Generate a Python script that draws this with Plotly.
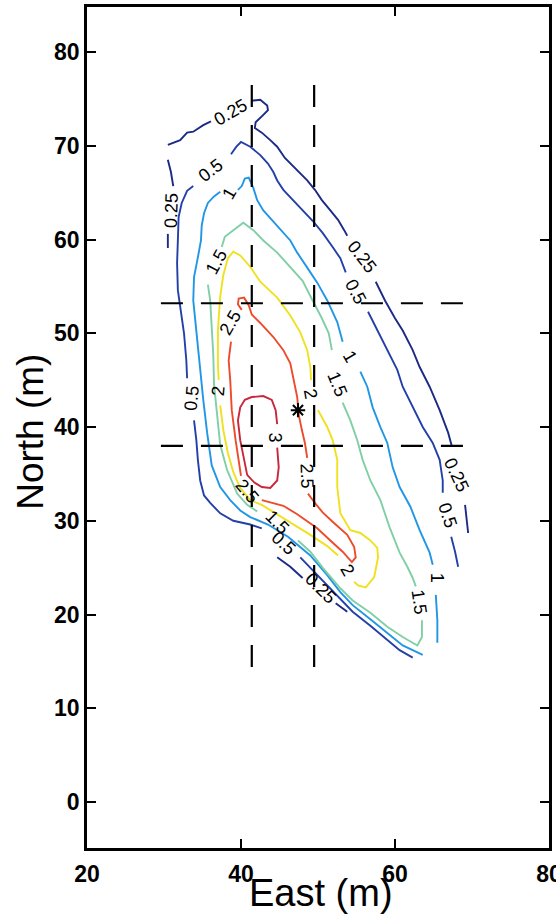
import plotly.graph_objects as go

# Contour polylines (East, North in metres), one list of segments per level.
# Segments are broken where an inline level label sits on the line.
c025 = [
    [(30.5, 70.1), (32.1, 70.6), (33.0, 71.4), (33.8, 71.5), (35.1, 72.2), (36.1, 72.6)],
    [(41.3, 74.8), (42.5, 74.9), (43.4, 74.3), (43.5, 73.8), (42.9, 73.3), (41.9, 72.5),
     (41.8, 71.9), (42.7, 71.4), (43.8, 70.6), (44.7, 69.9), (45.7, 68.7), (47.3, 67.4),
     (48.6, 66.3), (49.6, 65.3), (50.5, 64.2), (51.6, 63.1), (52.6, 62.1), (53.4, 61.0),
     (53.8, 60.4)],
    [(57.5, 55.5), (58.7, 53.5), (60.0, 51.6), (61.0, 50.3), (62.3, 48.2), (63.2, 46.4),
     (64.5, 44.3), (65.8, 41.8), (66.9, 39.4), (67.4, 37.9)],
    [(69.1, 31.7), (69.3, 30.1), (69.5, 28.7)],
    [(30.5, 68.5), (30.9, 67.2), (31.2, 65.7)],
    [(30.5, 60.6), (30.5, 59.1)],
    [(44.7, 26.1), (46.4, 25.1), (48.0, 23.9)],
    [(52.3, 21.2), (53.8, 20.3)],
]
c05 = [
    [(68.2, 25.1), (67.8, 26.7), (67.3, 28.3)],
    [(66.2, 33.0), (66.2, 34.3), (65.8, 36.5), (64.9, 38.3), (63.6, 40.0), (62.3, 42.1),
     (61.0, 44.3), (60.3, 46.1), (59.0, 48.2), (57.7, 50.3), (56.5, 52.3)],
    [(53.6, 56.5), (52.9, 58.0), (51.9, 59.2), (50.6, 60.7), (49.3, 62.0), (48.0, 63.1),
     (46.8, 64.2), (45.5, 65.3), (44.7, 66.3), (44.2, 67.2), (43.5, 68.1), (42.5, 69.0),
     (41.2, 69.9), (40.0, 70.4), (39.4, 69.9), (38.7, 69.1)],
    [(33.8, 65.7), (33.0, 65.2), (32.3, 63.9), (31.9, 62.4), (31.8, 59.9), (31.7, 57.5),
     (31.8, 54.6), (32.2, 52.5), (32.6, 50.0), (32.9, 47.1), (33.0, 45.2)],
    [(33.9, 40.7), (34.2, 38.6), (34.4, 36.5), (34.7, 34.3), (35.2, 32.7), (36.0, 31.9),
     (37.3, 30.8), (39.0, 30.0), (41.2, 29.6), (42.7, 29.2)],
    [(47.7, 26.1), (50.3, 23.9), (52.5, 22.0), (54.5, 20.3), (56.8, 18.8), (59.0, 17.3),
     (60.6, 16.2), (62.3, 15.4)],
]
c1 = [
    [(65.5, 17.0), (65.5, 19.4), (65.3, 22.1)],
    [(64.9, 25.3), (64.5, 26.6), (63.2, 29.0), (62.0, 31.5), (60.6, 33.6), (59.7, 35.7),
     (59.0, 38.3), (58.1, 40.0), (57.1, 42.1), (56.4, 44.3), (55.5, 45.9)],
    [(53.2, 49.1), (52.5, 51.2), (51.2, 53.5), (49.9, 55.4), (48.6, 57.0), (47.3, 58.6),
     (46.4, 59.9), (44.7, 61.5), (42.9, 63.1), (42.1, 64.2), (41.6, 65.5), (41.0, 66.6),
     (40.5, 66.5), (40.1, 65.7), (39.6, 65.3)],
    [(37.3, 65.1), (36.5, 64.6), (35.7, 63.9), (35.2, 62.8), (34.9, 61.5), (34.8, 59.9),
     (34.4, 58.1), (33.9, 56.0), (33.8, 53.5), (34.2, 50.0), (34.7, 46.4), (35.1, 42.9),
     (35.6, 39.4), (36.2, 35.9), (37.3, 33.6), (38.6, 32.2), (39.9, 31.1), (41.2, 30.4),
     (43.5, 29.6), (46.1, 28.3), (49.0, 26.3), (51.2, 24.2), (52.9, 22.4), (54.5, 21.0),
     (56.8, 19.5), (59.0, 18.0), (61.0, 16.7), (63.6, 15.7)],
]
c15 = [
    [(37.5, 59.2), (37.9, 60.3), (39.0, 61.0), (40.3, 61.8), (41.6, 61.0), (42.9, 59.9),
     (44.7, 58.6), (46.4, 57.1), (48.0, 55.6), (49.3, 53.5), (50.5, 51.6), (51.4, 50.0),
     (51.8, 48.2)],
    [(53.2, 42.6), (54.2, 40.7), (55.1, 38.6), (55.8, 36.5), (56.8, 34.3), (58.1, 32.2),
     (59.3, 29.3), (60.6, 26.6), (61.6, 25.1), (62.3, 23.9), (62.7, 23.0)],
    [(63.5, 19.4), (63.5, 17.6), (62.9, 16.7), (61.0, 17.6), (59.0, 18.7), (56.8, 20.2),
     (54.5, 21.5), (52.9, 22.8), (50.6, 25.0), (49.0, 26.7), (47.4, 27.9)],
    [(42.1, 31.0), (40.8, 31.7), (39.5, 32.9), (38.2, 35.4), (37.3, 38.1), (36.9, 41.3),
     (36.5, 44.5), (36.4, 47.7), (36.2, 50.3), (36.0, 53.5), (35.7, 55.2)],
]
c2 = [
    [(37.1, 45.0), (37.0, 46.8), (37.0, 50.3), (37.3, 53.9), (37.7, 56.2), (38.3, 58.0),
     (39.0, 58.7), (39.9, 58.3), (41.2, 57.1), (42.5, 55.5), (44.7, 53.8), (46.4, 51.9),
     (47.7, 50.1), (48.6, 48.2), (49.0, 46.4), (49.1, 45.0)],
    [(50.0, 41.8), (51.2, 40.0), (51.9, 38.6), (52.5, 36.5), (52.5, 33.6), (52.9, 30.8),
     (54.2, 29.0), (55.5, 28.7), (56.8, 27.9), (57.7, 27.1), (57.8, 26.1), (57.3, 24.0),
     (56.2, 22.9), (55.2, 23.1), (54.7, 23.5)],
    [(52.6, 26.3), (51.2, 27.3), (49.0, 28.5), (46.8, 29.6), (44.7, 30.7), (42.7, 31.7),
     (41.2, 32.2), (39.9, 33.5), (39.0, 35.2), (38.3, 37.2), (37.7, 39.7), (37.3, 42.3)],
]
c25 = [
    [(38.7, 49.1), (38.4, 47.1), (38.6, 45.0), (38.8, 41.8), (39.3, 38.6), (39.7, 36.5),
     (40.0, 34.8)],
    [(42.7, 32.2), (45.5, 31.6), (47.3, 30.7), (49.9, 29.2), (51.6, 27.9), (53.2, 26.7),
     (54.4, 25.6), (54.9, 26.1), (54.7, 27.2), (53.8, 28.5), (51.9, 29.9), (50.6, 30.9),
     (49.5, 32.0), (48.7, 32.9)],
    [(48.6, 36.7), (48.3, 38.3), (47.9, 39.7), (47.5, 41.3), (47.3, 43.2), (46.8, 45.0),
     (46.4, 46.8), (45.5, 48.2), (44.2, 49.6), (42.5, 51.1), (41.4, 52.0), (41.0, 53.0),
     (40.4, 53.8), (39.7, 53.7), (39.6, 53.1), (40.1, 52.5)],
]
c3 = [
    [(44.7, 37.8), (44.9, 35.7), (44.7, 34.3), (43.8, 33.5), (42.7, 33.6), (41.7, 34.1),
     (40.8, 34.9), (40.3, 36.8), (39.9, 38.6), (39.6, 40.7), (39.9, 42.1), (40.5, 42.9),
     (41.4, 43.2), (42.9, 43.3), (44.0, 42.9), (44.5, 41.8), (44.7, 40.3)],
]

levels = ["0.25", "0.5", "1", "1.5", "2", "2.5", "3"]
level_lines = [c025, c05, c1, c15, c2, c25, c3]
level_colors = ["#1b2a86", "#2340a8", "#2196e6", "#80cfa6", "#f0e11e", "#ee4a2c", "#c8283c"]

# Inline contour labels: (text, East, North, rotation in degrees)
contour_labels = [
    ("0.25", 38.7, 73.6, -30), ("0.25", 55.7, 58.1, 52), ("0.25", 68.0, 34.9, 65),
    ("0.25", 31.0, 63.1, -88), ("0.25", 50.3, 22.8, 45),
    ("0.5", 66.8, 30.6, 72), ("0.5", 54.9, 54.4, 62), ("0.5", 36.1, 67.4, -37),
    ("0.5", 33.6, 43.1, -85), ("0.5", 45.5, 27.6, 42),
    ("1", 65.5, 23.9, 90), ("1", 54.2, 47.5, 60), ("1", 38.4, 64.9, -60),
    ("1.5", 52.5, 44.6, 68), ("1.5", 63.1, 21.3, 82), ("1.5", 44.7, 29.9, 45),
    ("1.5", 36.8, 57.6, -62),
    ("2", 49.0, 43.5, 80), ("2", 53.8, 24.7, 60), ("2", 37.1, 43.8, -85),
    ("2.5", 40.8, 33.2, 50), ("2.5", 48.6, 34.8, 88), ("2.5", 38.6, 51.1, -60),
    ("3", 44.4, 38.9, 90),
]

# Survey cross-lines and the marked point
cross_east = [41.4, 49.5]
cross_north = [53.2, 38.0]
cross_north_span = [14.4, 77.2]
cross_east_span = [29.6, 70.1]
star_east, star_north = [47.4], [41.8]

x_ticks = [20, 40, 60, 80]
y_ticks = [0, 10, 20, 30, 40, 50, 60, 70, 80]

FONT = "Liberation Sans, Arial, Helvetica, sans-serif"

fig = go.Figure()

for name, segs, color in zip(levels, level_lines, level_colors):
    xs, ys = [], []
    for seg in segs:
        xs += [p[0] for p in seg] + [None]
        ys += [p[1] for p in seg] + [None]
    fig.add_trace(go.Scatter(x=xs, y=ys, mode="lines", name=name,
                             line=dict(color=color, width=1.9), hoverinfo="skip"))

for xv in cross_east:
    fig.add_trace(go.Scatter(x=[xv, xv], y=cross_north_span, mode="lines",
                             line=dict(color="black", width=2.2, dash="22px,18px"),
                             hoverinfo="skip"))
for yv in cross_north:
    fig.add_trace(go.Scatter(x=cross_east_span, y=[yv, yv], mode="lines",
                             line=dict(color="black", width=2.2, dash="22px,18px"),
                             hoverinfo="skip"))

fig.add_trace(go.Scatter(x=star_east, y=star_north, mode="markers",
                         marker=dict(symbol="asterisk-open", size=12, color="black",
                                     line=dict(color="black", width=2)),
                         hoverinfo="skip"))

for text, ex, ny, ang in contour_labels:
    fig.add_annotation(x=ex, y=ny, text=text, textangle=ang, showarrow=False,
                       font=dict(family=FONT, size=18, color="black"))

fig.add_annotation(xref="paper", yref="paper", x=-0.121, y=0.495, text="North (m)",
                   textangle=-90, showarrow=False, xanchor="center", yanchor="middle",
                   font=dict(family=FONT, size=37, color="black"))
fig.add_annotation(xref="paper", yref="paper", x=0.5065, y=-0.0535, text="East (m)",
                   showarrow=False, xanchor="center", yanchor="middle",
                   font=dict(family=FONT, size=38, color="black"))

axis_common = dict(showgrid=False, zeroline=False, showline=True, linecolor="black",
                   linewidth=2.5, mirror="ticks", ticks="inside", ticklen=9,
                   tickwidth=2, tickcolor="black", ticklabeloverflow="allow",
                   automargin=False,
                   tickfont=dict(family=FONT, size=23, color="black", weight="bold"))

fig.update_xaxes(range=[20, 80], tickvals=x_ticks, ticklabelstandoff=4, **axis_common)
fig.update_yaxes(range=[-4.9, 84.8], tickvals=y_ticks, **axis_common)

fig.update_layout(width=556, height=914, showlegend=False,
                  margin=dict(l=87, r=7, t=7, b=66, autoexpand=False),
                  plot_bgcolor="white", paper_bgcolor="white")

fig.write_html("out.html")
